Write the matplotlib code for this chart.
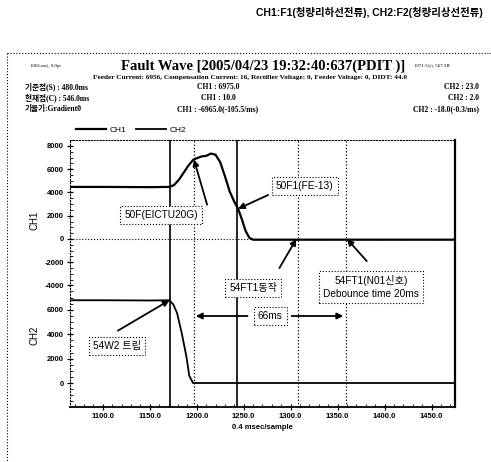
import numpy as np
import matplotlib
matplotlib.use('Agg')
import matplotlib.pyplot as plt
from matplotlib.lines import Line2D
from matplotlib.ticker import FixedLocator

plt.rcParams['font.family'] = ['Liberation Sans', 'Noto Sans CJK KR']

# samples (0.4 msec/sample) and channel values
ch1_x = [1065, 1100, 1150, 1171, 1176, 1181, 1186, 1191, 1196, 1200, 1205, 1210, 1215,
         1220, 1225, 1230, 1235, 1240, 1244, 1248, 1252, 1256, 1260, 1475]
ch1_y = [4480, 4480, 4460, 4480, 4650, 5100, 5700, 6300, 6800, 6950, 7100, 7150, 7350,
         7250, 6600, 5400, 4100, 3200, 2600, 1700, 700, 100, -60, -60]
ch2_x = [1065, 1100, 1150, 1171, 1175, 1179, 1184, 1189, 1192, 1196, 1475]
ch2_y = [6800, 6800, 6780, 6800, 6450, 5750, 4100, 2150, 600, 0, 0]

cursor_solid = [1172, 1243]
cursor_dotted = [1197, 1308, 1359]

ch1_ticks = [8000, 6000, 4000, 2000, 0, -2000, -4000]
ch2_ticks = [6000, 4000, 2000, 0]
x_ticks = [1100, 1150, 1200, 1250, 1300, 1350, 1400, 1450]

W, H = 491, 462
fig = plt.figure(figsize=(W / 100, H / 100), dpi=100)
fig.patch.set_facecolor('white')

def fx(px):
    return px / W

def fy(py):
    return 1 - py / H

ax1 = fig.add_axes([fx(70), fy(407), 385 / W, 267 / H])
ax2 = ax1.twinx()
ax2.patch.set_visible(False)

l1, = ax1.plot(ch1_x, ch1_y, color='k', lw=1.6, label='CH1')
l2, = ax2.plot(ch2_x, ch2_y, color='k', lw=1.3, label='CH2')
ax1.axhline(0, color='k', ls=':', lw=0.8)
for v in cursor_solid:
    ax1.axvline(v, color='k', lw=1.2)
for v in cursor_dotted:
    ax1.axvline(v, color='k', ls=':', lw=0.9)

ax1.set_xlim(1065, 1475)
ax1.set_ylim(-14452, 8516)
ax2.set_ylim(-1972, 19967)

ax1.set_xticks(x_ticks)
ax1.set_xticklabels(['%.1f' % t for t in x_ticks])
ax1.xaxis.set_minor_locator(FixedLocator(np.arange(1070, 1475, 10)))
ax1.set_yticks(ch1_ticks)
ax1.set_yticklabels([str(t) for t in ch1_ticks])
ax1.yaxis.set_minor_locator(FixedLocator(np.arange(-4500, 8501, 500)))
ax2.set_yticks(ch2_ticks)
ax2.set_yticklabels([str(t) for t in ch2_ticks])
ax2.yaxis.set_minor_locator(FixedLocator(np.arange(-1500, 7001, 500)))
ax2.yaxis.tick_left()

for ax in (ax1, ax2):
    ax.tick_params(which='major', direction='inout', length=5, width=0.9,
                   labelsize=5.5, pad=2)
    ax.tick_params(which='minor', direction='in', length=2.5, width=0.6)
    for lab in ax.get_xticklabels() + ax.get_yticklabels():
        lab.set_fontweight('bold')

for s in ax2.spines.values():
    s.set_visible(False)
ax1.spines['top'].set_linestyle(':')
ax1.spines['left'].set_linestyle(':')
ax1.spines['right'].set_linewidth(1.6)
ax1.spines['bottom'].set_linewidth(1.3)

ax1.set_xlabel('0.4 msec/sample', fontsize=5.5, fontweight='bold', labelpad=3)
fig.text(fx(35), fy(220), 'CH1', rotation=90, fontsize=7, ha='center', va='center')
fig.text(fx(35), fy(335), 'CH2', rotation=90, fontsize=7, ha='center', va='center')

ax1.legend(handles=[l1, l2], loc='lower left', bbox_to_anchor=(0.0, 1.0), ncol=2,
           frameon=False, fontsize=6, handlelength=3.6, columnspacing=1.2,
           borderaxespad=0.3, handletextpad=0.4)

box = dict(boxstyle='square,pad=0.4', fc='white', ec='k', ls=':', lw=0.8)
arrow = dict(arrowstyle='-|>', color='k', lw=1.3, mutation_scale=9, shrinkA=0, shrinkB=0)

def note(ax, x, y, s):
    ax.text(x, y, s, ha='center', va='center', fontsize=7.3, bbox=box, zorder=5,
            clip_on=False, linespacing=1.4)

def point(ax, start, target):
    ax.annotate('', xy=target, xytext=start, arrowprops=arrow, annotation_clip=False,
                zorder=6)

note(ax1, 1162, 2064, '50F(EICTU20G)')
point(ax1, (1211, 2950), (1197, np.interp(1197, ch1_x, ch1_y)))
note(ax1, 1315, 4560, '50F1(FE-13)')
point(ax1, (1276, 3785), (1244, np.interp(1244, ch1_x, ch1_y)))
note(ax1, 1260, -4215, '54FT1동작')
point(ax1, (1288, -2500), (1306, 0))
note(ax1, 1386, -4130, '54FT1(N01신호)\nDebounce time 20ms')
point(ax1, (1381, -1900), (1360, 0))
note(ax1, 1278, -6623, '66ms')
point(ax1, (1254, -6623), (1199, -6623))
point(ax1, (1301, -6623), (1356, -6623))
note(ax2, 1115, 3040, '54W2 트립')
point(ax2, (1116, 4300), (1171, np.interp(1171, ch2_x, ch2_y)))

# header
fig.text(fx(483), fy(13), 'CH1:F1(청량리하선전류), CH2:F2(청량리상선전류)',
         ha='right', va='center', fontsize=7.5, fontweight='bold')
fig.text(fx(263), fy(66), 'Fault Wave [2005/04/23 19:32:40:637(PDIT )]',
         ha='center', va='center', fontsize=10.5, fontweight='bold',
         family='Liberation Serif')
fig.text(fx(30), fy(66), '1066.ms), 0.0pt', ha='left', va='center', fontsize=3.5,
         family='Liberation Serif')
fig.text(fx(450), fy(66), '1071.5(s), 567.5B', ha='right', va='center', fontsize=3.5,
         family='Liberation Serif')
fig.text(fx(250), fy(77), 'Feeder Current: 6956, Compensation Current: 16, Rectifier Voltage: 0, '
         'Feeder Voltage: 0, DIDT: 44.0', ha='center', va='center', fontsize=5.2,
         fontweight='bold', family=['Liberation Serif', 'Noto Sans CJK KR'])
rows = [('기준점(S) : 480.0ms', 'CH1 : 6975.0', 'CH2 : 23.0'),
        ('현재점(C) : 546.0ms', 'CH1 : 10.0', 'CH2 : 2.0'),
        ('기울기:Gradient0', 'CH1 : -6965.0(-105.5/ms)', 'CH2 : -18.0(-0.3/ms)')]
for i, (a, b, c) in enumerate(rows):
    y = fy(87 + i * 11)
    kw = dict(va='center', fontsize=5.5, fontweight='bold',
              family=['Liberation Serif', 'Noto Sans CJK KR'])
    fig.text(fx(25), y, a, ha='left', **kw)
    fig.text(fx(218), y, b, ha='center', **kw)
    fig.text(fx(479), y, c, ha='right', **kw)

# dotted outer frame of the report
fig.add_artist(Line2D([fx(7), 1], [fy(53), fy(53)], transform=fig.transFigure,
                      color='k', ls=':', lw=0.8))
fig.add_artist(Line2D([fx(7), fx(7)], [fy(53), 0], transform=fig.transFigure,
                      color='k', ls=':', lw=0.8))

fig.savefig('out.png', dpi=100, facecolor='white')
